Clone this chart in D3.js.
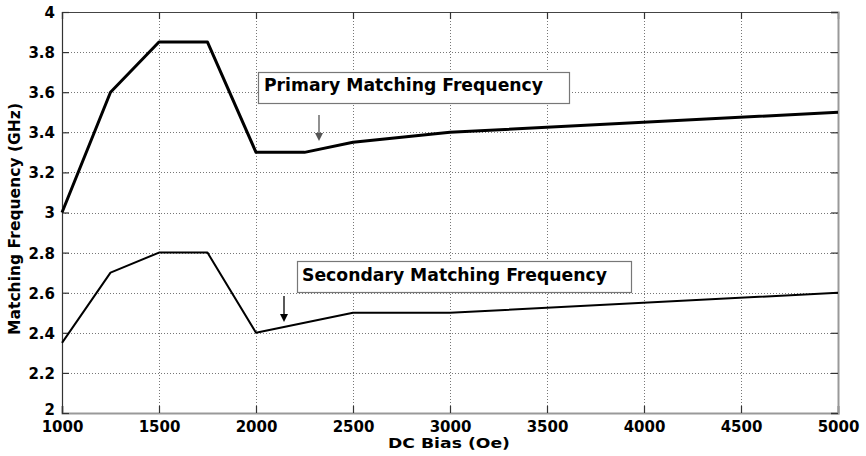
<!DOCTYPE html>
<html>
<head>
<meta charset="utf-8">
<script src="https://cdn.jsdelivr.net/npm/d3@7"></script>
<style>
body { margin: 0; background: #fff; }
text { font-family: "DejaVu Sans", Arial, sans-serif; font-weight: bold; }
</style>
</head>
<body>
<div id="chart"></div>
<script>
var width = 866, height = 456;
var margin = {left: 62, top: 12, right: 28, bottom: 43};

var biasValues = [1000, 1250, 1500, 1750, 2000, 2250, 2500, 3000, 5000];
var primaryFreq = [3.0, 3.6, 3.85, 3.85, 3.3, 3.3, 3.35, 3.4, 3.5];
var secondaryBias = [1000, 1250, 1500, 1750, 2000, 2500, 3000, 5000];
var secondaryFreq = [2.35, 2.7, 2.8, 2.8, 2.4, 2.5, 2.5, 2.6];
var xTicks = [1000, 1500, 2000, 2500, 3000, 3500, 4000, 4500, 5000];
var yTicks = [2, 2.2, 2.4, 2.6, 2.8, 3, 3.2, 3.4, 3.6, 3.8, 4];

var svg = d3.select('#chart').append('svg')
	.attr('width', width)
	.attr('height', height);

var x = d3.scaleLinear().domain([1000, 5000]).range([margin.left, width - margin.right]);
var y = d3.scaleLinear().domain([2, 4]).range([height - margin.bottom, margin.top]);

var x0 = x.range()[0], x1 = x.range()[1], y0 = y.range()[0], y1 = y.range()[1];
var crisp = function(v){ return Math.round(v) + 0.5; };

// dotted grid
svg.append('g').selectAll('line').data(xTicks.slice(1, -1)).enter().append('line')
	.attr('x1', function(d){ return crisp(x(d)); }).attr('x2', function(d){ return crisp(x(d)); })
	.attr('y1', y1).attr('y2', y0)
	.attr('stroke', '#777').attr('stroke-width', 1).attr('stroke-dasharray', '1,2');
svg.append('g').selectAll('line').data(yTicks.slice(1, -1)).enter().append('line')
	.attr('y1', function(d){ return crisp(y(d)); }).attr('y2', function(d){ return crisp(y(d)); })
	.attr('x1', x0).attr('x2', x1)
	.attr('stroke', '#777').attr('stroke-width', 1).attr('stroke-dasharray', '1,2');

// axes, ticks pointing inward
var bottomAxis = svg.append('g').attr('transform', 'translate(0,' + y0 + ')')
	.call(d3.axisBottom(x).tickValues(xTicks).tickSize(-7).tickPadding(8).tickFormat(d3.format('d')));
var topAxis = svg.append('g').attr('transform', 'translate(0,' + y1 + ')')
	.call(d3.axisTop(x).tickValues(xTicks).tickSize(-7).tickFormat(''));
var leftAxis = svg.append('g').attr('transform', 'translate(' + x0 + ',0)')
	.call(d3.axisLeft(y).tickValues(yTicks).tickSize(-7).tickPadding(7).tickFormat(d3.format('~g')));
var rightAxis = svg.append('g').attr('transform', 'translate(' + x1 + ',0)')
	.call(d3.axisRight(y).tickValues(yTicks).tickSize(-7).tickFormat(''));

[bottomAxis, topAxis, leftAxis, rightAxis].forEach(function(a){
	a.selectAll('.tick line').attr('stroke', '#333').attr('stroke-width', 1.2);
	a.selectAll('text').attr('fill', '#000')
		.style('font-size', '15px')
		.style('font-family', '"DejaVu Sans", Arial, sans-serif')
		.style('font-weight', 'bold');
});
leftAxis.select('.domain').attr('stroke', '#333').attr('stroke-width', 1.2);
topAxis.select('.domain').attr('stroke', '#444').attr('stroke-width', 1.2);
bottomAxis.select('.domain').attr('stroke', '#999').attr('stroke-width', 2);
rightAxis.select('.domain').attr('stroke', '#999').attr('stroke-width', 2);
leftAxis.selectAll('text').attr('dy', '0.36em');
// lowest y label sits a little higher, clear of the 1000 label
leftAxis.selectAll('.tick').filter(function(d){ return d === 2; }).select('text').attr('y', -4);
bottomAxis.selectAll('text').attr('dy', '0.72em');

// data lines
var primaryLine = d3.line()
	.x(function(d, i){ return x(biasValues[i]); })
	.y(function(d){ return y(d); });
var secondaryLine = d3.line()
	.x(function(d, i){ return x(secondaryBias[i]); })
	.y(function(d){ return y(d); });

svg.append('path').datum(primaryFreq)
	.attr('d', primaryLine)
	.attr('fill', 'none').attr('stroke', '#000').attr('stroke-width', 3)
	.attr('stroke-linejoin', 'round');
svg.append('path').datum(secondaryFreq)
	.attr('d', secondaryLine)
	.attr('fill', 'none').attr('stroke', '#000').attr('stroke-width', 2)
	.attr('stroke-linejoin', 'round');

// annotation boxes
svg.append('rect')
	.attr('x', 258.5).attr('y', 72.5).attr('width', 311).attr('height', 31)
	.attr('fill', '#fff').attr('stroke', '#777').attr('stroke-width', 1.2);
svg.append('text')
	.attr('x', 264).attr('y', 91)
	.attr('textLength', 279).attr('lengthAdjust', 'spacingAndGlyphs')
	.style('font-size', '17px')
	.text('Primary Matching Frequency');

svg.append('rect')
	.attr('x', 297.5).attr('y', 261.5).attr('width', 334).attr('height', 31)
	.attr('fill', '#fff').attr('stroke', '#777').attr('stroke-width', 1.2);
svg.append('text')
	.attr('x', 302).attr('y', 281)
	.attr('textLength', 305).attr('lengthAdjust', 'spacingAndGlyphs')
	.style('font-size', '17px')
	.text('Secondary Matching Frequency');

function arrow(ax, ya, yb, color){
	svg.append('line')
		.attr('x1', ax).attr('x2', ax).attr('y1', ya).attr('y2', yb - 4)
		.attr('stroke', color).attr('stroke-width', 1.3);
	svg.append('path')
		.attr('d', 'M' + (ax - 4) + ',' + (yb - 8) + 'L' + ax + ',' + yb + 'L' + (ax + 4) + ',' + (yb - 8) + 'Z')
		.attr('fill', color);
}
arrow(319, 115, 141, '#555');
arrow(284, 296, 322, '#000');

// axis titles
svg.append('text')
	.attr('x', 449).attr('y', 448)
	.attr('text-anchor', 'middle')
	.attr('textLength', 122).attr('lengthAdjust', 'spacingAndGlyphs')
	.style('font-size', '14.5px')
	.text('DC Bias (Oe)');
svg.append('text')
	.attr('transform', 'translate(20,219) rotate(-90)')
	.attr('text-anchor', 'middle')
	.attr('textLength', 232).attr('lengthAdjust', 'spacingAndGlyphs')
	.style('font-size', '15.5px')
	.text('Matching Frequency (GHz)');
</script>
</body>
</html>
